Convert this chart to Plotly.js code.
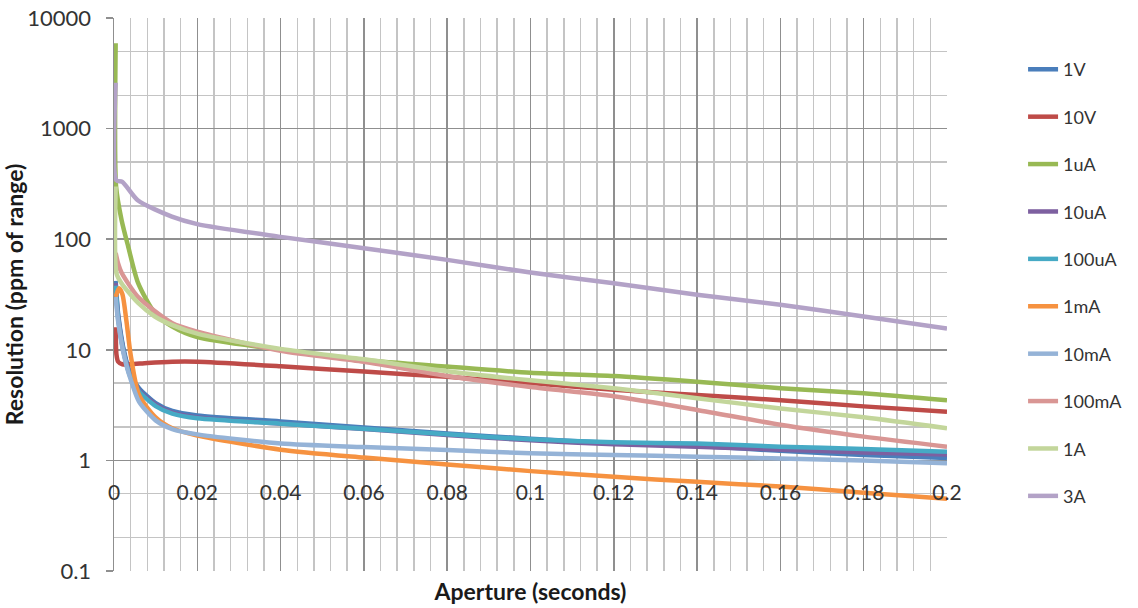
<!DOCTYPE html>
<html>
<head>
<meta charset="utf-8">
<script src="https://cdn.plot.ly/plotly-3.0.1.min.js"></script>
<style>html,body{margin:0;padding:0;background:#fff;}#chart{width:1138px;height:608px;}</style>
</head>
<body>
<div id="chart"></div>
<script>
// Series names
const seriesNames = ["1V", "10V", "1uA", "10uA", "100uA", "1mA", "10mA", "100mA", "1A", "3A"];
// Shared aperture values (seconds) for the slow part of every curve
const apertureLate = [0.02, 0.04, 0.06, 0.08, 0.10, 0.12, 0.14, 0.16, 0.18, 0.20];
// Y axis tick labels
const yTickVals = [0.1, 1, 10, 100, 1000, 10000];
const yTickText = ["0.1", "1", "10", "100", "1000", "10000"];

// Short-aperture samples (seconds) and values (ppm of range)
const x1V    = [0.0004, 0.001, 0.0026, 0.004, 0.006, 0.01, 0.014];
const y1V    = [42, 21, 9, 6, 4.5, 3.3, 2.8];
const x10V   = [0.0004, 0.0006, 0.001, 0.002, 0.004, 0.008, 0.014];
const y10V   = [16, 9, 7.8, 7.4, 7.4, 7.6, 7.8];
const x1uA   = [0.0004, 0.0005, 0.0018, 0.0034, 0.0058, 0.0098, 0.014];
const y1uA   = [5900, 300, 150, 86, 40, 21.5, 16.2];
const x10uA  = [0.0004, 0.001, 0.0026, 0.004, 0.006, 0.01, 0.014];
const y10uA  = [40, 20, 8.7, 5.8, 4.3, 3.2, 2.7];
const x100uA = [0.0004, 0.001, 0.0026, 0.004, 0.006, 0.01, 0.014];
const y100uA = [38, 19, 8.5, 5.6, 4.2, 3.1, 2.65];
const x1mA   = [0.0004, 0.0012, 0.002, 0.003, 0.004, 0.006, 0.01, 0.014];
const y1mA   = [30, 36, 32, 18, 9, 3.9, 2.45, 1.95];
const x10mA  = [0.0004, 0.001, 0.002, 0.003, 0.004, 0.006, 0.01, 0.014];
const y10mA  = [30, 18, 10.5, 7.2, 5.4, 3.4, 2.3, 1.92];
const x100mA = [0.0004, 0.001, 0.0018, 0.0058, 0.0139];
const y100mA = [75, 60, 50, 30, 17.5];
const x1A    = [0.0004, 0.0006, 0.0018, 0.0058, 0.0098, 0.014];
const y1A    = [300, 49, 40, 26.5, 20, 16.7];
const x3A    = [0.0004, 0.0006, 0.002, 0.0057, 0.0139];
const y3A    = [2600, 340, 330, 225, 160];

// Long-aperture values (ppm of range) at apertureLate
const late1V    = [2.55, 2.25, 1.98, 1.75, 1.57, 1.44, 1.35, 1.22, 1.12, 1.05];
const late10V   = [7.8, 7.1, 6.35, 5.7, 5.0, 4.35, 3.9, 3.5, 3.08, 2.76];
const late1uA   = [13, 10, 8.1, 7.05, 6.2, 5.8, 5.15, 4.5, 4.05, 3.5];
const late10uA  = [2.45, 2.15, 1.92, 1.70, 1.52, 1.40, 1.33, 1.25, 1.18, 1.13];
const late100uA = [2.4, 2.15, 1.93, 1.72, 1.55, 1.46, 1.42, 1.33, 1.27, 1.2];
const late1mA   = [1.68, 1.25, 1.06, 0.92, 0.8, 0.71, 0.64, 0.58, 0.51, 0.45];
const late10mA  = [1.72, 1.42, 1.32, 1.24, 1.16, 1.12, 1.08, 1.04, 1.0, 0.94];
const late100mA = [14.6, 9.8, 7.8, 5.8, 4.6, 3.8, 2.86, 2.1, 1.64, 1.33];
const late1A    = [14, 10.2, 8.2, 6.4, 5.3, 4.5, 3.65, 2.95, 2.45, 1.95];
const late3A    = [137, 105, 83, 65, 50, 40, 31.5, 25.5, 20, 15.6];

const colors = ["#4A7EBB", "#BE4B48", "#98B954", "#7D60A0", "#46AAC5",
                "#F69240", "#95B3D7", "#D99694", "#C3D69B", "#B3A2C7"];

const early = [[x1V,y1V],[x10V,y10V],[x1uA,y1uA],[x10uA,y10uA],[x100uA,y100uA],
               [x1mA,y1mA],[x10mA,y10mA],[x100mA,y100mA],[x1A,y1A],[x3A,y3A]];
const late = [late1V, late10V, late1uA, late10uA, late100uA, late1mA, late10mA, late100mA, late1A, late3A];

const FONT = "Lato, 'Open Sans', sans-serif";

const traces = seriesNames.map((name, i) => ({
  type: "scatter",
  mode: "lines",
  name: name,
  legendgroup: name,
  x: early[i][0].concat(apertureLate),
  y: early[i][1].concat(late[i]),
  line: {color: colors[i], width: 4.5, shape: "spline", smoothing: 0.7},
  hoverinfo: "x+y+name"
}));

const majorGrid = "#8f8f8f";
const minorGrid = "#c4c4c4";

const layout = {
  width: 1138,
  height: 608,
  margin: {l: 114, r: 191, t: 18, b: 37},
  paper_bgcolor: "#ffffff",
  plot_bgcolor: "#ffffff",
  font: {family: FONT, color: "#333333"},
  showlegend: true,
  legend: {
    xref: "container", yref: "container",
    x: 0.899, y: 0.916, xanchor: "left", yanchor: "top",
    font: {family: FONT, size: 18, color: "#333333"},
    tracegroupgap: 21,
    maxheight: 580,
    bgcolor: "rgba(0,0,0,0)",
    itemclick: false
  },
  xaxis: {
    range: [0, 0.2],
    tick0: 0,
    dtick: 0.02,
    anchor: "free",
    position: 0.2,
    showgrid: true,
    gridcolor: majorGrid,
    gridwidth: 1.5,
    minor: {dtick: 0.004, showgrid: true, gridcolor: minorGrid, gridwidth: 1.5},
    zeroline: false,
    showline: false,
    ticks: "",
    ticklabelstandoff: 18,
    tickfont: {family: FONT, size: 21, color: "#333333"},
    title: {text: "Aperture (seconds)", standoff: 80,
            font: {family: FONT, size: 23, weight: "bold", color: "#1a1a1a"}}
  },
  yaxis: {
    type: "log",
    range: [-1, 4],
    tickvals: yTickVals,
    ticktext: yTickText,
    showgrid: true,
    gridcolor: majorGrid,
    gridwidth: 1.5,
    minor: {showgrid: true, gridcolor: minorGrid, gridwidth: 1.5},
    zeroline: false,
    showline: true,
    linecolor: majorGrid,
    linewidth: 1.5,
    ticks: "outside",
    ticklen: 7,
    tickcolor: majorGrid,
    tickwidth: 1.5,
    ticklabelstandoff: 10,
    tickfont: {family: FONT, size: 22, color: "#333333"},
    title: {text: "Resolution (ppm of range)", standoff: 0,
            font: {family: FONT, size: 23, weight: "bold", color: "#1a1a1a"}}
  }
};

Plotly.newPlot("chart", traces, layout, {staticPlot: true, displayModeBar: false});
</script>
</body>
</html>
